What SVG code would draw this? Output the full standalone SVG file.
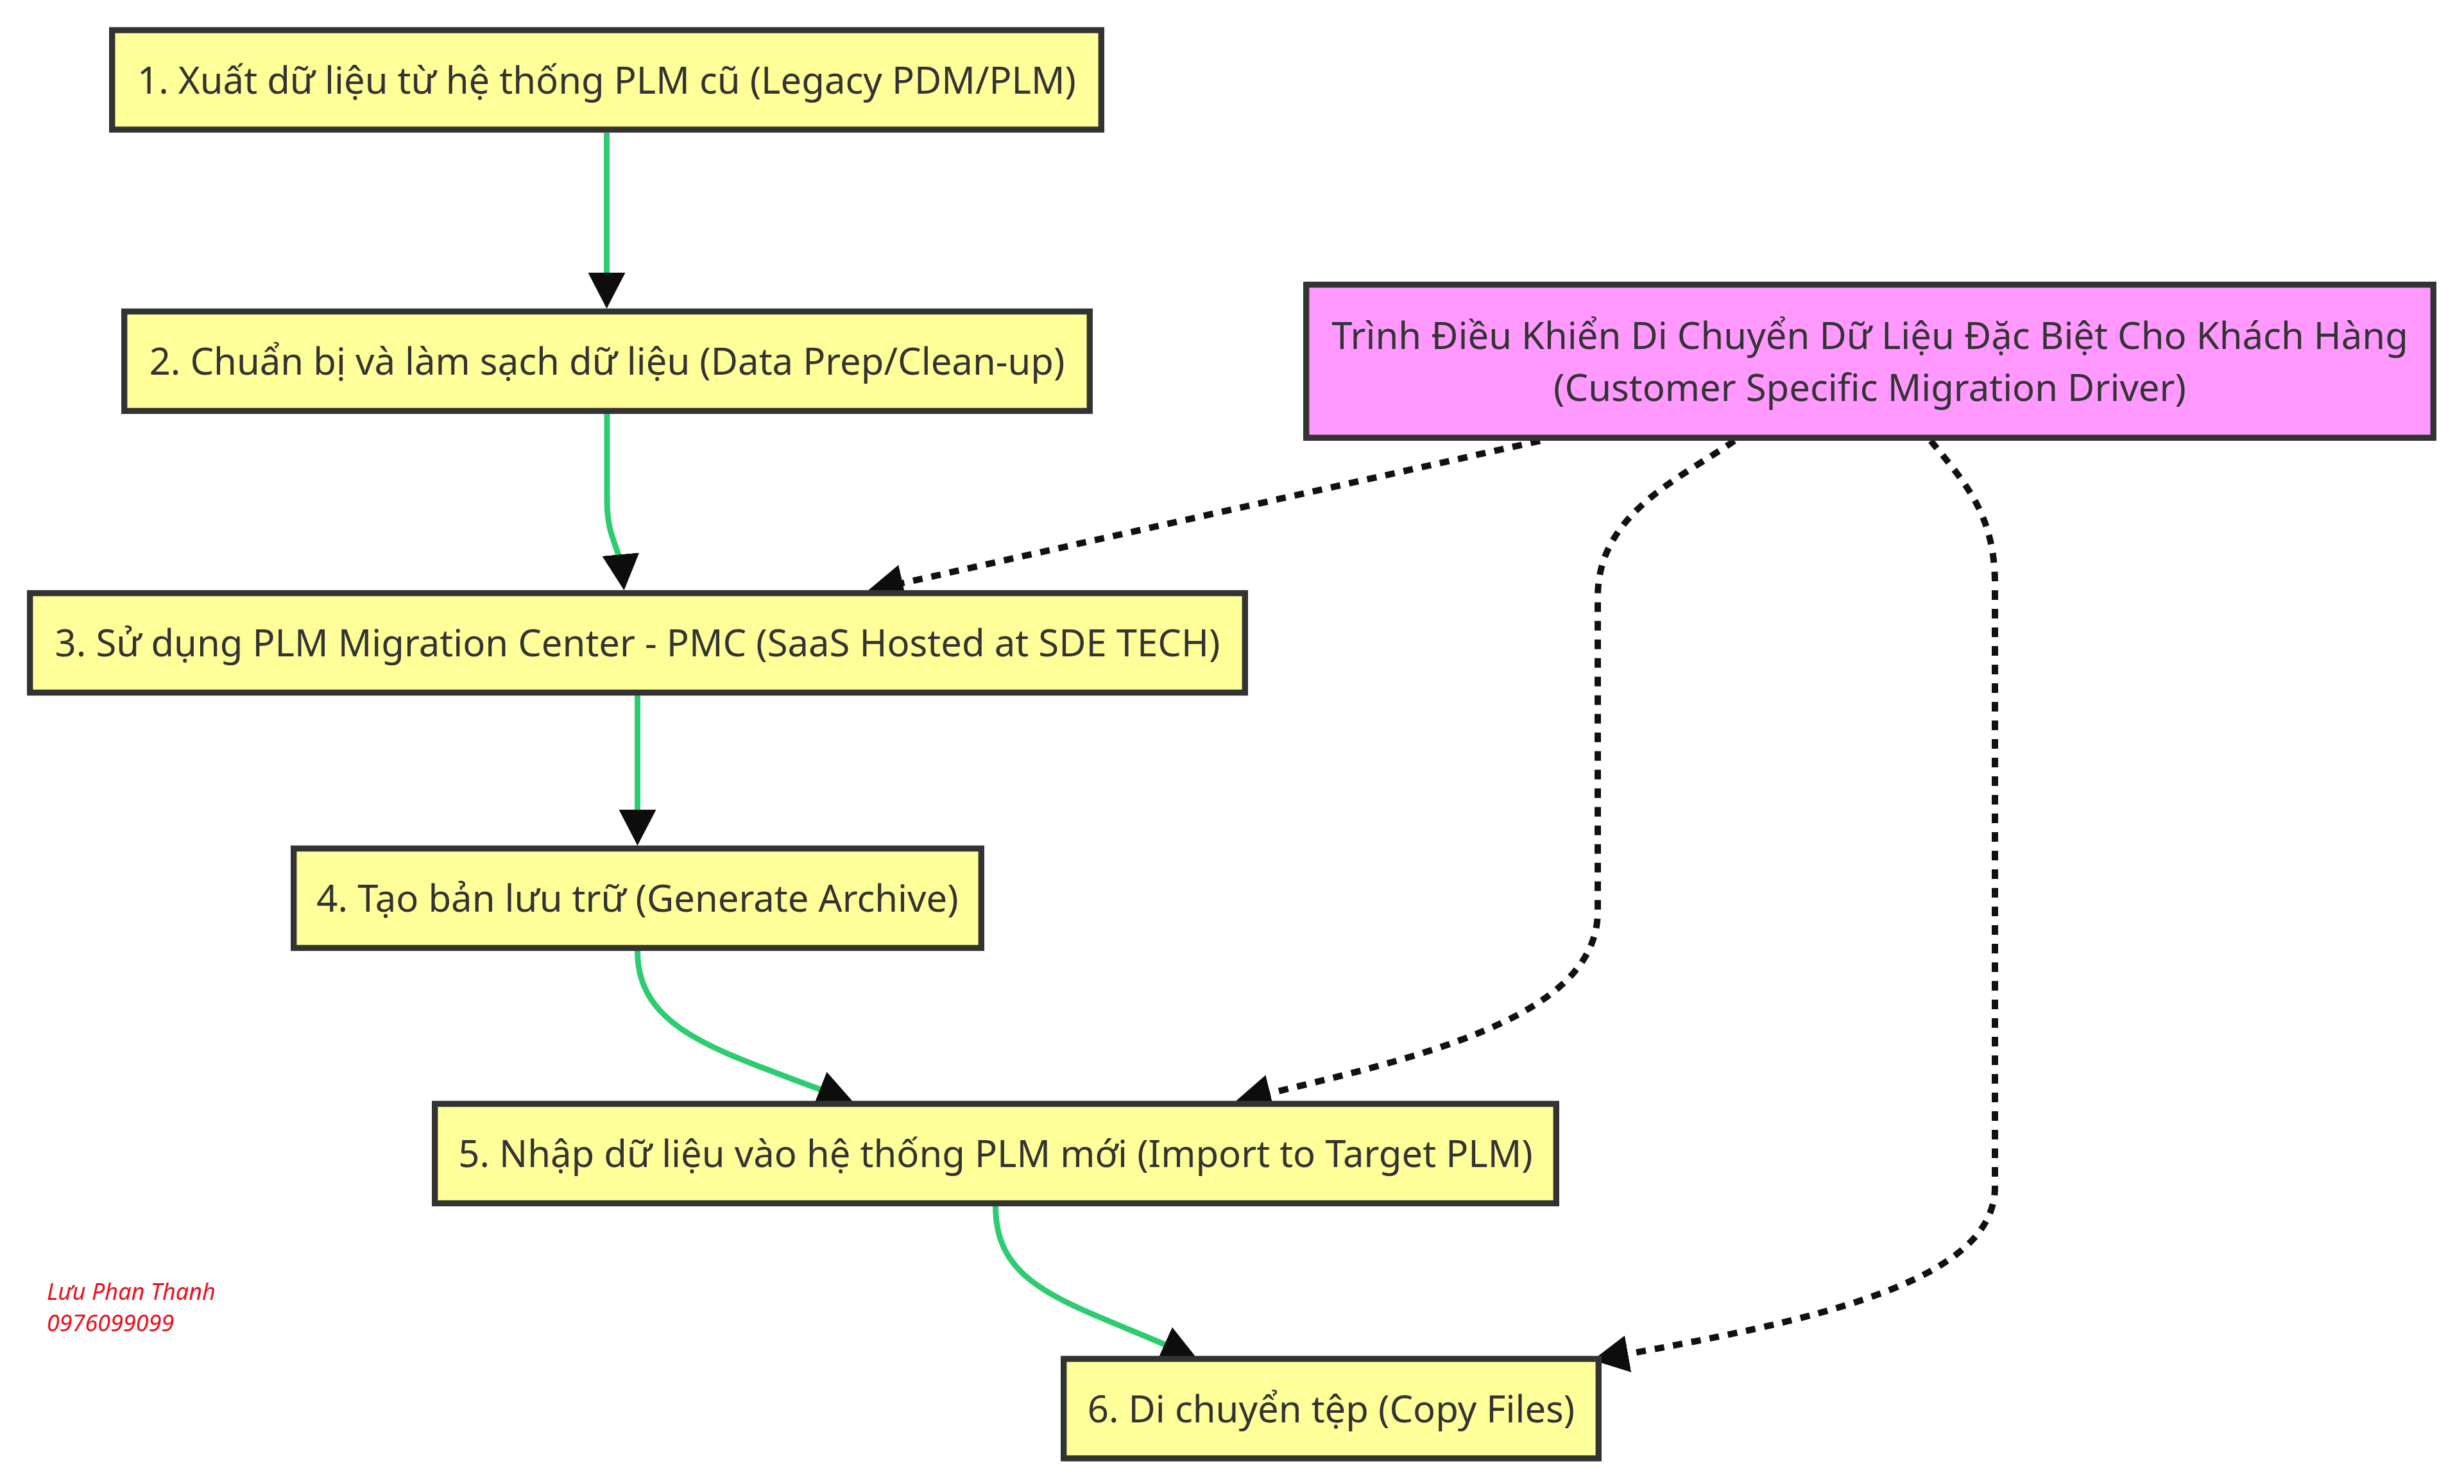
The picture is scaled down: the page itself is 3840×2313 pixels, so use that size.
<svg xmlns="http://www.w3.org/2000/svg" width="3840" height="2313" viewBox="0 0 3840 2313">
<style>
.node rect{stroke:#333333;stroke-width:9.4}
.step rect{fill:#ffff99}
.driver rect{fill:#ff99ff}
.node text{font-family:"Noto Sans","DejaVu Sans",sans-serif;font-size:58px;fill:#333333;text-anchor:middle}
.flow{fill:none;stroke:#2ecc71;stroke-width:9}
.dot{fill:none;stroke:#111111;stroke-width:10;stroke-dasharray:15 14}
.wm{font-family:"Noto Sans","DejaVu Sans",sans-serif;font-size:36px;font-style:italic;fill:#e8101c}
</style>
<defs>
<marker id="arr" viewBox="0 0 56 58" refX="36" refY="29" markerWidth="56" markerHeight="58" markerUnits="userSpaceOnUse" orient="auto">
<path d="M0,0 L56,29 L0,58 z" fill="#0d0d0d"/>
</marker>
</defs>
<rect width="3840" height="2313" fill="#ffffff"/>
<g id="connectors">
<path class="flow" d="M945.5,207 L945.5,461" marker-end="url(#arr)"/>
<path class="flow" d="M946,645 L946,780 C946,840 966,850 970.7,900" marker-end="url(#arr)"/>
<path class="flow" d="M993.5,1084 L993.5,1298" marker-end="url(#arr)"/>
<path class="flow" d="M993.5,1482 C993.5,1610 1130,1640 1311.4,1710.7" marker-end="url(#arr)"/>
<path class="flow" d="M1551.5,1880 C1551.5,2010 1670,2030 1847.8,2109.8" marker-end="url(#arr)"/>
<path class="dot" d="M2400,687 L1371.5,916.6" marker-end="url(#arr)"/>
<path class="dot" d="M2703,687 C2620,745 2490,800 2490,930 L2490,1420 C2490,1590 2200,1650 1944.4,1712.3" marker-end="url(#arr)"/>
<path class="dot" d="M3009,687 C3060,750 3109,800 3109,910 L3109,1850 C3109,2000 2820,2060 2501.7,2116.5" marker-end="url(#arr)"/>
</g>
<g id="n1" class="node step"><rect x="174.7" y="47" width="1541.6" height="155"/><text x="945.5" y="145.5">1. Xuất dữ liệu từ hệ thống PLM cũ (Legacy PDM/PLM)</text></g>
<g id="n2" class="node step"><rect x="193.7" y="485.5" width="1504.6" height="155"/><text x="946" y="584">2. Chuẩn bị và làm sạch dữ liệu (Data Prep/Clean-up)</text></g>
<g id="n3" class="node step"><rect x="46.7" y="924.5" width="1893.6" height="155"/><text x="993.5" y="1023">3. Sử dụng PLM Migration Center - PMC (SaaS Hosted at SDE TECH)</text></g>
<g id="n4" class="node step"><rect x="457.7" y="1322.5" width="1071.6" height="155"/><text x="993.5" y="1421">4. Tạo bản lưu trữ (Generate Archive)</text></g>
<g id="n5" class="node step"><rect x="677.7" y="1720.5" width="1747.6" height="155"/><text x="1551.5" y="1819">5. Nhập dữ liệu vào hệ thống PLM mới (Import to Target PLM)</text></g>
<g id="n6" class="node step"><rect x="1657.7" y="2118" width="833.6" height="155"/><text x="2074.5" y="2216.5">6. Di chuyển tệp (Copy Files)</text></g>
<g id="driver" class="node driver"><rect x="2035.7" y="443.7" width="1756.6" height="238.6"/><text x="2914" y="543.5">Trình Điều Khiển Di Chuyển Dữ Liệu Đặc Biệt Cho Khách Hàng</text><text x="2914" y="624.5">(Customer Specific Migration Driver)</text></g>
<g id="watermark"><text class="wm" x="73" y="2026">Lưu Phan Thanh</text><text class="wm" x="73" y="2075">0976099099</text></g>
</svg>
